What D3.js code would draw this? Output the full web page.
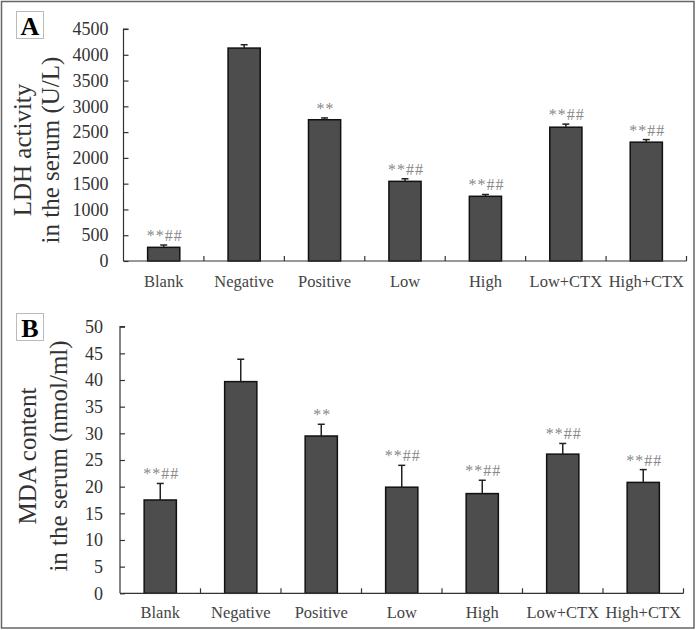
<!DOCTYPE html>
<html>
<head>
<meta charset="utf-8">
<script src="https://cdn.jsdelivr.net/npm/d3@7"></script>
<style>
  html, body { margin: 0; padding: 0; background: #fff; }
  svg { display: block; font-family: "Liberation Serif", "Times New Roman", serif; }
</style>
</head>
<body>
<svg id="chart" width="697" height="630"></svg>
<script>
// ---- data ----
const categories = ["Blank", "Negative", "Positive", "Low", "High", "Low+CTX", "High+CTX"];
const ldhMean = [265, 4130, 2740, 1545, 1255, 2595, 2305];
const ldhSD   = [45, 65, 35, 50, 35, 60, 50];
const ldhMarks = ["**##", "", "**", "**##", "**##", "**##", "**##"];
const ldhTicks = [0, 500, 1000, 1500, 2000, 2500, 3000, 3500, 4000, 4500];

const mdaMean = [17.5, 39.7, 29.5, 19.9, 18.7, 26.1, 20.8];
const mdaSD   = [3.1, 4.2, 2.2, 4.1, 2.5, 2.0, 2.4];
const mdaMarks = ["**##", "", "**", "**##", "**##", "**##", "**##"];
const mdaTicks = [0, 5, 10, 15, 20, 25, 30, 35, 40, 45, 50];

const svg = d3.select("#chart");

// outer frame
svg.append("rect")
  .attr("x", 1.5).attr("y", 1.5).attr("width", 692.5).attr("height", 626.5)
  .attr("fill", "none").attr("stroke", "#666").attr("stroke-width", 1.5);

function panel(opt) {
  const g = svg.append("g");
  const x = d3.scaleBand().domain(categories)
    .range([opt.x0, opt.x1]).paddingInner(0.6).paddingOuter(0.3);
  const y = d3.scaleLinear().domain([0, opt.ymax]).range([opt.yb, opt.yt]);

  // letter box
  g.append("rect").attr("x", 16.5).attr("y", opt.boxY + 0.5).attr("width", 27).attr("height", 27)
    .attr("fill", "#fff").attr("stroke", "#bbb").attr("stroke-width", 1);
  g.append("text").attr("x", 30).attr("y", opt.boxY + 24)
    .attr("text-anchor", "middle").attr("font-size", 26).attr("font-weight", "bold")
    .attr("fill", "#000").text(opt.letter);

  // bars
  const data = categories.map((c, i) => ({ c, m: opt.mean[i], s: opt.sd[i], t: opt.marks[i] }));
  g.selectAll("rect.bar").data(data).enter().append("rect")
    .attr("class", "bar")
    .attr("x", d => x(d.c)).attr("width", x.bandwidth())
    .attr("y", d => y(d.m)).attr("height", d => y(0) - y(d.m))
    .attr("fill", "#4d4d4d").attr("stroke", "#111").attr("stroke-width", 1.5);

  // error bars (upper)
  const eb = g.selectAll("g.eb").data(data).enter().append("g");
  eb.append("line")
    .attr("x1", d => x(d.c) + x.bandwidth() / 2).attr("x2", d => x(d.c) + x.bandwidth() / 2)
    .attr("y1", d => y(d.m)).attr("y2", d => y(d.m + d.s))
    .attr("stroke", "#222").attr("stroke-width", 1.5);
  eb.append("line")
    .attr("x1", d => x(d.c) + x.bandwidth() / 2 - 3.5).attr("x2", d => x(d.c) + x.bandwidth() / 2 + 3.5)
    .attr("y1", d => y(d.m + d.s)).attr("y2", d => y(d.m + d.s))
    .attr("stroke", "#222").attr("stroke-width", 1.5);

  // significance marks
  g.selectAll("text.mark").data(data).enter().append("text")
    .attr("class", "mark")
    .attr("x", d => x(d.c) + x.bandwidth() / 2 + 1)
    .attr("y", d => y(d.m + d.s) - opt.markGap)
    .attr("text-anchor", "middle").attr("font-size", 16).attr("letter-spacing", 1)
    .attr("fill", "#888").text(d => d.t);

  // y axis
  const yAxis = d3.axisRight(y).tickValues(opt.ticks).tickSize(5).tickFormat(d3.format("d"));
  const ya = g.append("g").attr("transform", `translate(${opt.x0},0)`).call(yAxis);
  ya.select(".domain").attr("stroke", "#333").attr("stroke-width", 1.2)
    .attr("d", `M5,${opt.yt}H0V${opt.yb}`);
  ya.selectAll(".tick line").attr("stroke", "#333").attr("stroke-width", 1.2);
  ya.selectAll(".tick text")
    .attr("x", -opt.labelGap).attr("text-anchor", "end")
    .attr("font-family", "Liberation Serif, Times New Roman, serif")
    .attr("font-size", 18).attr("fill", "#333");

  // x axis
  const xa = g.append("g");
  xa.append("line").attr("x1", opt.x0).attr("x2", opt.x1).attr("y1", opt.yb).attr("y2", opt.yb)
    .attr("stroke", "#333").attr("stroke-width", 1.2);
  const bounds = d3.range(1, categories.length + 1).map(i => opt.x0 + i * (opt.x1 - opt.x0) / categories.length);
  xa.selectAll("line.xt").data(bounds).enter().append("line")
    .attr("x1", d => d).attr("x2", d => d).attr("y1", opt.yb).attr("y2", opt.yb - 5)
    .attr("stroke", "#333").attr("stroke-width", 1.2);
  xa.selectAll("text.cat").data(categories).enter().append("text")
    .attr("x", d => x(d) + x.bandwidth() / 2).attr("y", opt.catY)
    .attr("text-anchor", "middle").attr("font-size", 16.5).attr("fill", "#444").text(d => d);

  // y title (two lines)
  const cy = opt.titleCY;
  g.append("text").attr("transform", `translate(${opt.t1x},${cy}) rotate(-90)`)
    .attr("text-anchor", "middle").attr("font-size", 25).attr("fill", "#333").text(opt.title1);
  g.append("text").attr("transform", `translate(${opt.t2x},${cy}) rotate(-90)`)
    .attr("text-anchor", "middle").attr("font-size", 25).attr("fill", "#333").text(opt.title2);
}

panel({
  letter: "A", boxY: 11,
  x0: 123.5, x1: 686.5, yt: 29, yb: 261, ymax: 4500,
  mean: ldhMean, sd: ldhSD, marks: ldhMarks, ticks: ldhTicks,
  labelGap: 15, catY: 287, markGap: 4,
  title1: "LDH activity", title2: "in the serum (U/L)",
  t1x: 31, t2x: 59, titleCY: 150
});

panel({
  letter: "B", boxY: 313,
  x0: 120, x1: 683.5, yt: 326.7, yb: 593.3, ymax: 50,
  mean: mdaMean, sd: mdaSD, marks: mdaMarks, ticks: mdaTicks,
  labelGap: 17, catY: 618, markGap: 4,
  title1: "MDA content", title2: "in the serum (nmol/ml)",
  t1x: 36, t2x: 67, titleCY: 456
});
</script>
</body>
</html>
